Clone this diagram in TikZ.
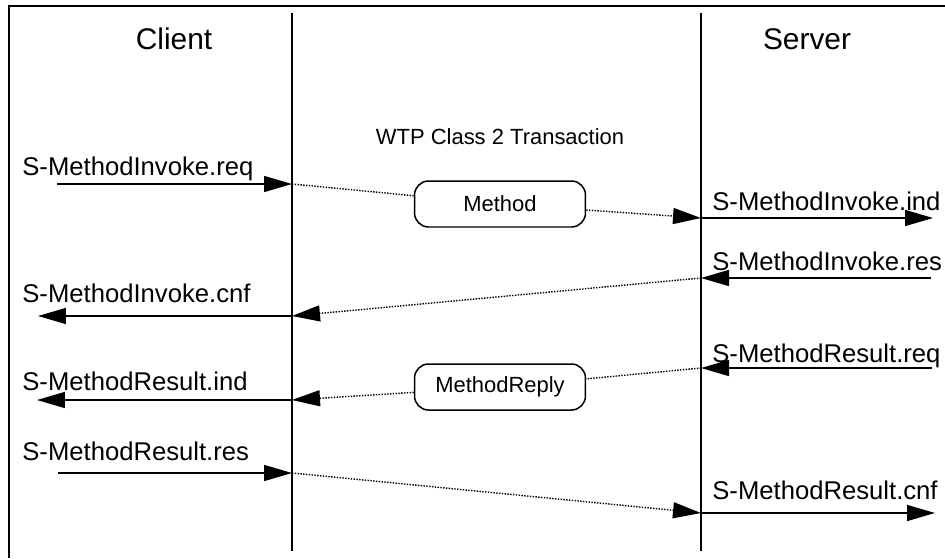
\documentclass[tikz,border=0pt]{standalone}
\usepackage{fontspec}
\setmainfont{Liberation Sans}
\usetikzlibrary{arrows.meta}

\tikzset{
    tip/.style={-{Triangle[length=0.56cm, width=0.32cm]}},
    prim/.style={line width=0.85pt, tip},
    dots/.style={line width=0.8pt, dash pattern=on 0.8pt off 0.8pt},
    pdu/.style={dots, tip},
    life/.style={line width=0.85pt},
    lbl/.style={font=\fontsize{14.6}{17}\selectfont, inner sep=0pt, anchor=base west},
    party/.style={font=\fontsize{17}{20}\selectfont, inner sep=0pt, anchor=base},
    msgbox/.style={draw, line width=0.85pt, rounded corners=8pt, minimum width=3.42cm,
        minimum height=0.92cm, font=\fontsize{12.5}{15}\selectfont}
}

\begin{document}
\begin{tikzpicture}[x=0.02cm, y=-0.02cm]
    \useasboundingbox (0,0) rectangle (945,558);
    \draw[line width=1.1pt] (945,6) -- (9,6) -- (9,558);

    % lifelines
    \draw[life] (292,13) coordinate (ctop) -- (292,551) coordinate (cbot);
    \draw[life] (701,13) coordinate (stop) -- (701,551) coordinate (sbot);
    \node[party] (client) at (174,49) {Client};
    \node[party] (server) at (807,49) {Server};
    \node[font=\fontsize{12.5}{15}\selectfont, inner sep=0pt, anchor=base] (wtp) at (500,144) {WTP Class 2 Transaction};

    % points on the lifelines
    \coordinate (c1) at (292,184); \coordinate (a1) at (57,184);
    \coordinate (s1) at (701,218); \coordinate (b1) at (933,218);
    \coordinate (s2) at (701,278); \coordinate (b2) at (931,278);
    \coordinate (c2) at (292,316); \coordinate (a2) at (38,316);
    \coordinate (s3) at (701,368); \coordinate (b3) at (932,368);
    \coordinate (c3) at (292,400); \coordinate (a3) at (37,400);
    \coordinate (c4) at (292,473); \coordinate (a4) at (58,473);
    \coordinate (s4) at (701,513); \coordinate (b4) at (935,513);

    % primitives
    \node[lbl] (invreq) at (22,175) {S-MethodInvoke.req};
    \node[lbl] (invind) at (712,210) {S-MethodInvoke.ind};
    \node[lbl] (invres) at (712,270) {S-MethodInvoke.res};
    \node[lbl] (invcnf) at (22,302) {S-MethodInvoke.cnf};
    \node[lbl] (resreq) at (712,362) {S-MethodResult.req};
    \node[lbl] (resind) at (22,390) {S-MethodResult.ind};
    \node[lbl] (resres) at (22,460) {S-MethodResult.res};
    \node[lbl] (rescnf) at (712,499) {S-MethodResult.cnf};

    \draw[prim] (a1) -- (c1);
    \draw[prim] (s1) -- (b1);
    \draw[prim] (b2) -- (s2);
    \draw[prim] (c2) -- (a2);
    \draw[prim] (b3) -- (s3);
    \draw[prim] (c3) -- (a3);
    \draw[prim] (a4) -- (c4);
    \draw[prim] (s4) -- (b4);

    % PDUs
    \node[msgbox] (meth) at (500,204) {Method};
    \node[msgbox] (reply) at (500,387) {MethodReply};
    \draw[dots] (c1) -- (meth);
    \draw[pdu] (meth) -- (s1);
    \draw[pdu] (s2) -- (c2);
    \draw[dots] (s3) -- (reply);
    \draw[pdu] (reply) -- (c3);
    \draw[pdu] (c4) -- (s4);
\end{tikzpicture}
\end{document}
